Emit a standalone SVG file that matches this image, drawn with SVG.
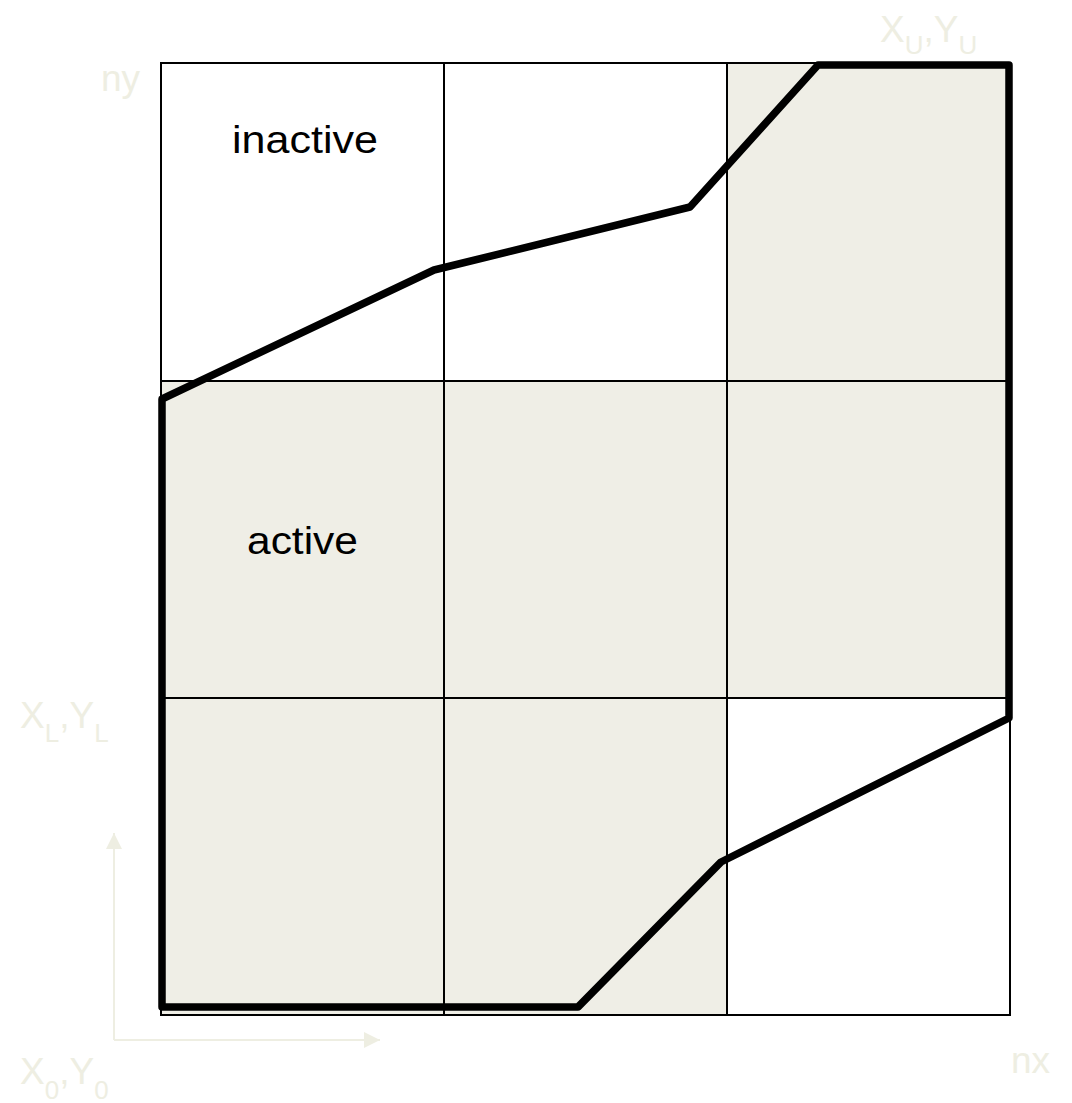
<svg xmlns="http://www.w3.org/2000/svg" width="1072" height="1103" viewBox="0 0 1072 1103">
  <style>
    .cell { fill: #EFEEE6; stroke: none; }
    .grid { stroke: #000; stroke-width: 2; fill: none; }
    .outline { stroke: #000; stroke-width: 7.5; fill: none; stroke-linejoin: round; stroke-linecap: butt; }
    .lbl { font-family: "Liberation Sans", Arial, sans-serif; fill: #000; font-size: 38px; }
    .faint { font-family: "Liberation Sans", Arial, sans-serif; fill: #EEEEE2; font-size: 37px; }
    .sub { font-size: 26px; }
    .axis { stroke: #EEEEE2; stroke-width: 2; fill: none; }
  </style>
  <defs>
    <marker id="ah" viewBox="0 0 10 10" refX="10" refY="5" markerWidth="16" markerHeight="16" markerUnits="userSpaceOnUse" orient="auto">
      <path d="M0,0 L10,5 L0,10 Z" fill="#EEEEE2"/>
    </marker>
  </defs>
  <rect width="1072" height="1103" fill="#fff"/>

  <g id="shaded-cells">
    <rect class="cell" x="727" y="63" width="283" height="318"/>
    <rect class="cell" x="161" y="381" width="849" height="317"/>
    <rect class="cell" x="161" y="698" width="566" height="317"/>
  </g>

  <g id="grid">
    <rect class="grid" x="161" y="63" width="849" height="952"/>
    <line class="grid" x1="444" y1="63" x2="444" y2="1015"/>
    <line class="grid" x1="727" y1="63" x2="727" y2="1015"/>
    <line class="grid" x1="161" y1="381" x2="1010" y2="381"/>
    <line class="grid" x1="161" y1="698" x2="1010" y2="698"/>
  </g>

  <g id="connectors">
    <path class="outline" d="M162,399 L434,270 L690,207 L818,65 L1009,65 L1009,718 L721,862 L578,1007 L162,1007 Z"/>
  </g>

  <g id="axes">
    <line class="axis" x1="114" y1="1040" x2="114" y2="833" marker-end="url(#ah)"/>
    <line class="axis" x1="114" y1="1040" x2="380" y2="1040" marker-end="url(#ah)"/>
  </g>

  <g id="label-inactive">
    <text class="lbl" x="232" y="153" textLength="146" lengthAdjust="spacingAndGlyphs">inactive</text>
  </g>
  <g id="label-active">
    <text class="lbl" x="247" y="554" textLength="111" lengthAdjust="spacingAndGlyphs">active</text>
  </g>

  <g id="corner-labels">
    <text class="faint" x="101" y="91" font-size="46">ny</text>
    <text class="faint" x="1011" y="1073" font-size="46">nx</text>
    <text class="faint" x="880" y="42">X<tspan class="sub" dy="12">U</tspan><tspan dy="-12">,Y</tspan><tspan class="sub" dy="12">U</tspan></text>
    <text class="faint" x="20" y="728">X<tspan class="sub" dy="14">L</tspan><tspan dy="-14">,Y</tspan><tspan class="sub" dy="14">L</tspan></text>
    <text class="faint" x="20" y="1084">X<tspan class="sub" dy="15">0</tspan><tspan dy="-15">,Y</tspan><tspan class="sub" dy="15">0</tspan></text>
  </g>
</svg>
